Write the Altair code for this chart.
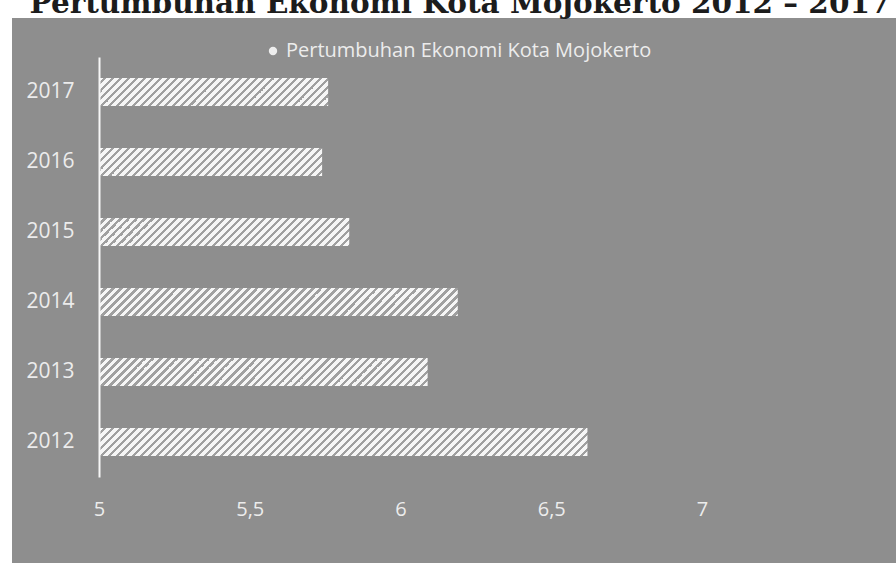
import altair as alt
import pandas as pd

# ---- data ----
years = ["2012", "2013", "2014", "2015", "2016", "2017"]
growth = [6.62, 6.09, 6.19, 5.83, 5.74, 5.76]
series_name = "Pertumbuhan Ekonomi Kota Mojokerto"
title_text = "Pertumbuhan Ekonomi Kota Mojokerto 2012 – 2017"
x_ticks = [5, 5.5, 6, 6.5, 7]

# ---- layout / style ----
PLOT_W, PLOT_H = 603, 420
X_MIN, X_MAX = 5, 7
BAR_H = 28
PERIOD = 8.0
STRIPE = 3.8
BG = "#8e8e8e"
LABEL = "#ececec"
WHITE = "#f6f6f6"
GRAY = "#a0a0a0"

df = pd.DataFrame({"year": years, "growth": growth})
one = alt.Data(values=[{}])


def hatch(width_px):
    """Diagonal stripe fill made from a hard-stop linear gradient."""
    r = BAR_H / width_px
    total = width_px + BAR_H
    s = total / (width_px * (1 + r * r))
    stops = []
    k = 0
    while k * PERIOD < total:
        a = k * PERIOD
        b = a + PERIOD - STRIPE
        c = a + PERIOD
        for off0, off1, col in ((a, b, WHITE), (b, c, GRAY)):
            o0 = min(off0 / total, 1.0)
            o1 = min(off1 / total, 1.0)
            stops.append(alt.GradientStop(offset=o0, color=col))
            stops.append(alt.GradientStop(offset=o1, color=col))
        k += 1
    return alt.LinearGradient(gradient="linear", x1=0, y1=0, x2=s,
                              y2=s * r, stops=stops)


y_axis = alt.Axis(title=None, domainColor=WHITE, domainWidth=2, ticks=False,
                  labelColor=LABEL, labelFontSize=21, labelFont="Open Sans",
                  labelPadding=25, grid=False, zindex=2)
x_axis = alt.Axis(title=None, domain=False, ticks=False, grid=False,
                  values=x_ticks, labelColor=LABEL, labelFontSize=20,
                  labelFont="Open Sans", labelFlush=False, labelPadding=22,
                  labelExpr="replace(format(datum.value, '~g'), '.', ',')",
                  zindex=2)

y_scale = alt.Scale(domain=years[::-1], paddingInner=0.6, paddingOuter=0.3)
x_scale = alt.Scale(domain=[X_MIN, X_MAX], zero=False, nice=False)

background = alt.Chart(one).mark_rect(color=BG).encode(
    x=alt.value(-87), x2=alt.value(797), y=alt.value(-39), y2=alt.value(506)
)

bar_layers = []
for yr, v in zip(years, growth):
    w = (v - X_MIN) / (X_MAX - X_MIN) * PLOT_W
    layer = alt.Chart(df).transform_filter(alt.datum.year == yr).mark_bar(
        fill=hatch(w), strokeWidth=0
    ).encode(
        y=alt.Y("year:N", scale=y_scale, axis=y_axis),
        x=alt.X("growth:Q", scale=x_scale, axis=x_axis),
        x2=alt.datum(X_MIN),
    )
    bar_layers.append(layer)

legend_dot = alt.Chart(one).mark_point(
    shape="circle", filled=True, color="#eeeeee", size=70, opacity=1
).encode(x=alt.value(174), y=alt.value(-6))

legend_text = alt.Chart(one).mark_text(
    text=series_name, font="Open Sans", fontSize=20, color=LABEL,
    align="left", baseline="middle"
).encode(x=alt.value(187), y=alt.value(-6))

title = alt.Chart(one).mark_text(
    text=title_text, font="DejaVu Serif", fontWeight="bold", fontSize=29.5,
    color="#1c1c1c", align="center", baseline="alphabetic"
).encode(x=alt.value(361), y=alt.value(-44))

chart = alt.layer(background, *bar_layers, legend_dot, legend_text, title).properties(
    width=PLOT_W, height=PLOT_H,
    autosize=alt.AutoSizeParams(type="none"),
    padding={"left": 99, "top": 57, "right": 194, "bottom": 86},
    background="white",
).configure_view(stroke=None)

chart.save("out.html", embed_options={"renderer": "svg", "actions": False})
